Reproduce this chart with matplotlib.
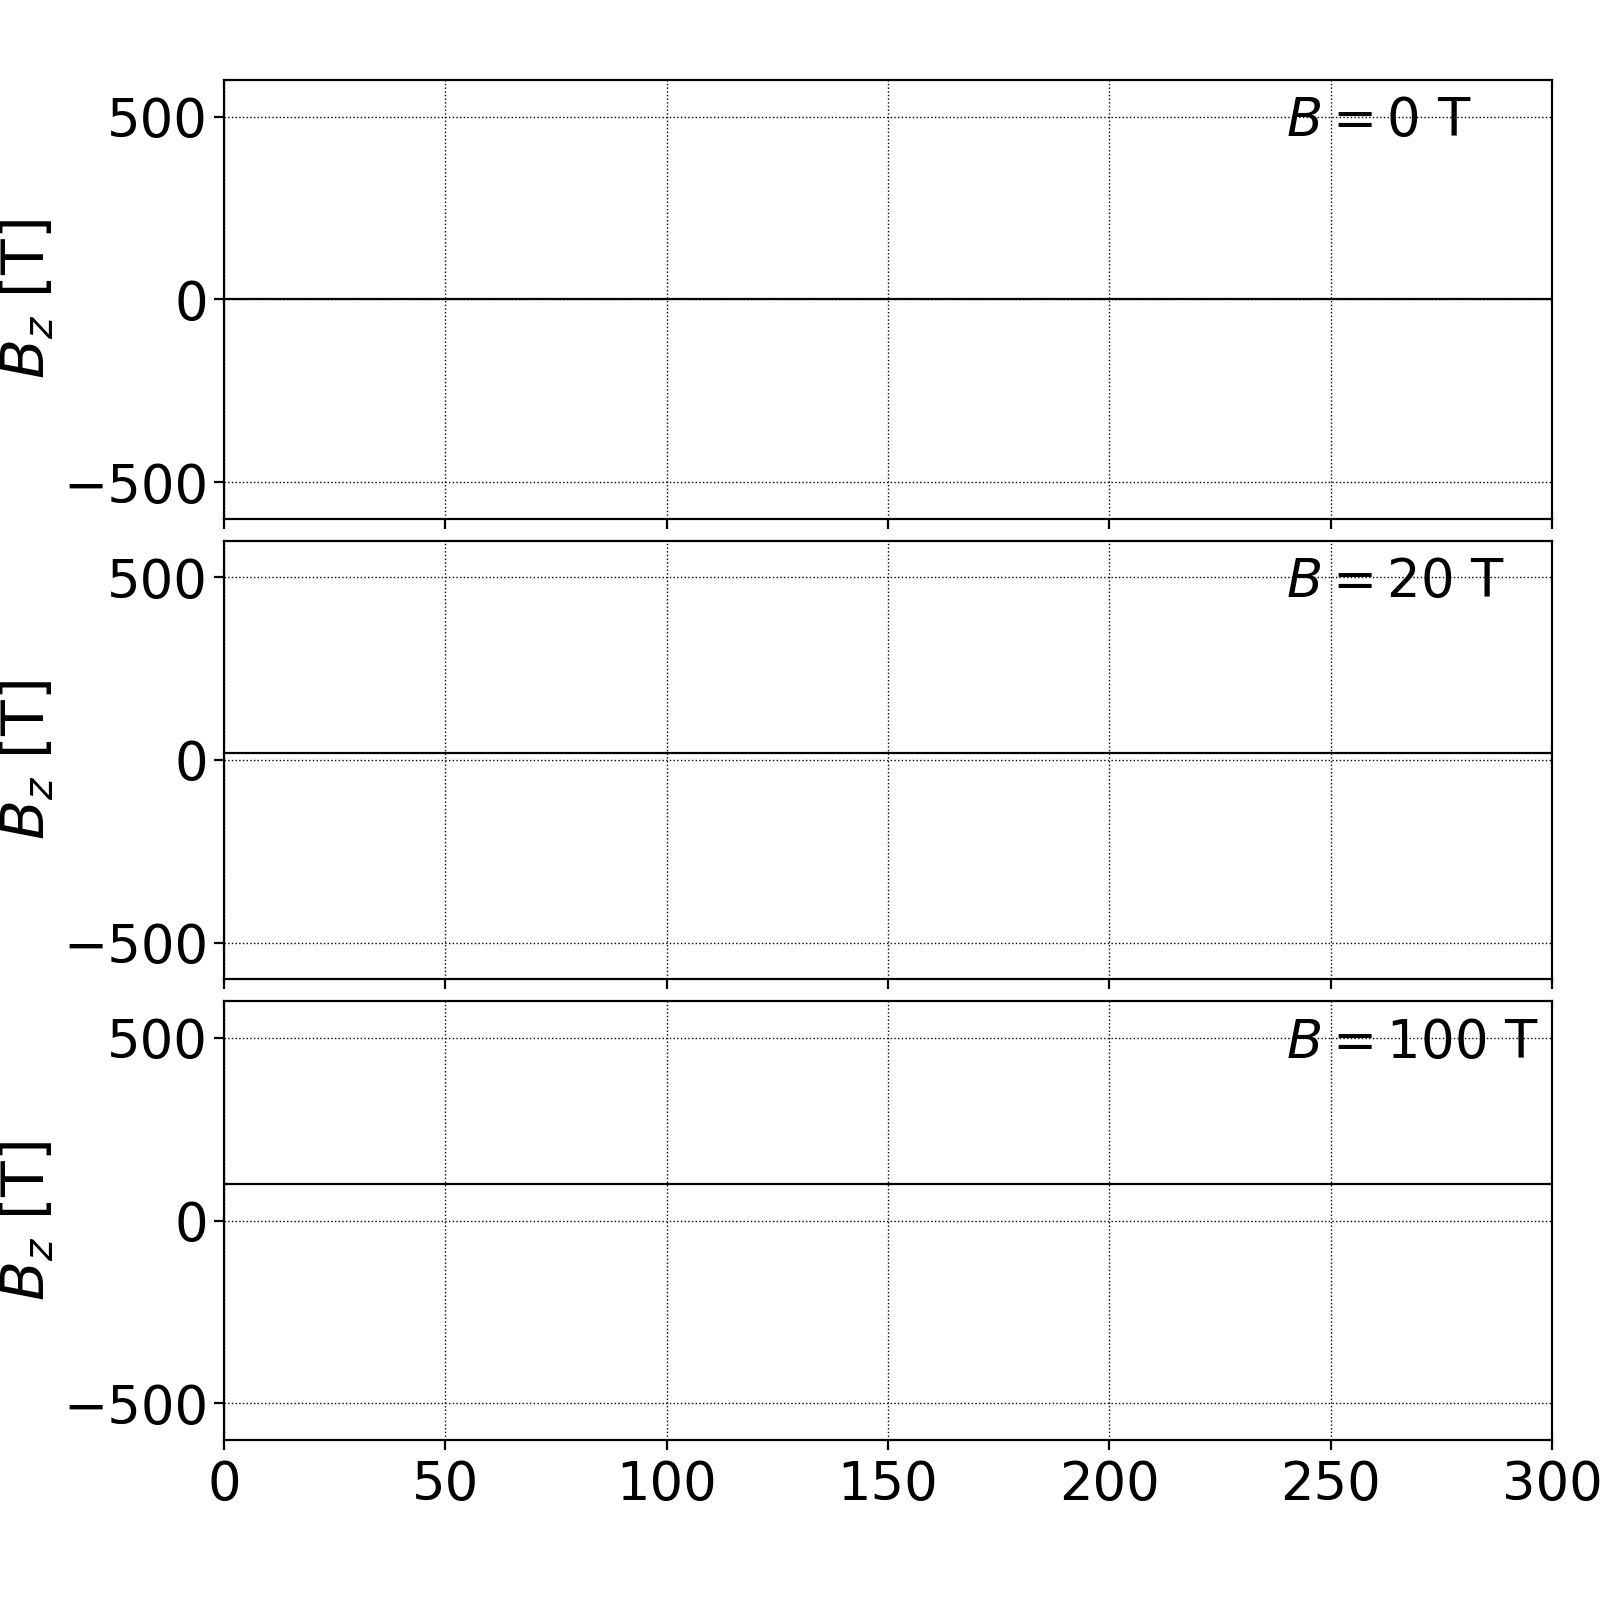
import matplotlib
matplotlib.use('Agg')
import matplotlib.pyplot as plt
import numpy as np

# applied field per panel [T] and the resulting Bz along the track
fields = [0, 20, 100]
x = [0, 300]
bz = [[0, 0], [20, 20], [100, 100]]
labels = [r'$B = %d$ T' % b for b in fields]

plt.rcParams['font.size'] = 19

fig, axes = plt.subplots(3, 1, figsize=(8, 8), dpi=200, sharex=True)
fig.subplots_adjust(left=0.14, right=0.97, top=0.95, bottom=0.10, hspace=0.05)

for ax, y, lab in zip(axes, bz, labels):
    ax.plot(x, y, 'k-', lw=0.8)
    ax.set_xlim(0, 300)
    ax.set_ylim(-600, 600)
    ax.set_yticks([-500, 0, 500])
    ax.tick_params(axis='y', pad=2.2)
    ax.set_ylabel(r'$B_z$ [T]', fontsize=21)
    ax.yaxis.set_label_coords(-0.126, 0.5)
    ax.grid(True, ls=':', color='k', lw=0.5)
    ax.text(0.80, 0.965, lab, transform=ax.transAxes, va='top', ha='left')

axes[-1].set_xticks([0, 50, 100, 150, 200, 250, 300])

fig.savefig('out.png')
